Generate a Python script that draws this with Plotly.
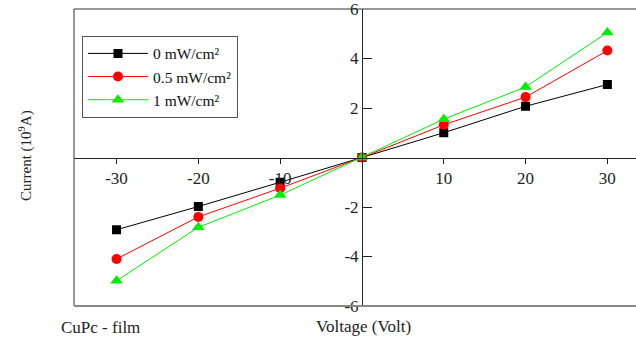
import plotly.graph_objects as go

voltage = [-30, -20, -10, 0, 10, 20, 30]
current_0 = [-2.92, -1.98, -1.0, 0.0, 1.0, 2.07, 2.95]
current_05 = [-4.1, -2.4, -1.24, 0.0, 1.32, 2.44, 4.32]
current_1 = [-4.98, -2.82, -1.52, 0.0, 1.55, 2.85, 5.05]
series_names = ["0 mW/cm²", "0.5 mW/cm²", "1 mW/cm²"]
x_ticks = [-30, -20, -10, 10, 20, 30]
y_ticks = [-6, -4, -2, 2, 4, 6]

W, H = 636, 343
ml, mr, mt, mb = 74, 0, 7, 37
x_range = [-35.2, 33.5]
y_range = [-6, 6]
pw = W - ml - mr
ph = H - mt - mb
yaxis_pos = (0 - x_range[0]) / (x_range[1] - x_range[0])
xaxis_pos = (0 - y_range[0]) / (y_range[1] - y_range[0])

font_family = "Liberation Serif, Times New Roman, serif"

fig = go.Figure()
styles = [
    (current_0, "black", "square", 9),
    (current_05, "red", "circle", 10),
    (current_1, "#00ee00", "triangle-up", 11),
]
for (vals, color, sym, size), name in zip(styles, series_names):
    fig.add_trace(go.Scatter(
        x=voltage, y=vals, name=name, mode="lines+markers",
        line=dict(color=color, width=1),
        marker=dict(color=color, symbol=sym, size=size),
    ))

fig.update_layout(
    width=W, height=H,
    margin=dict(l=ml, r=mr, t=mt, b=mb),
    paper_bgcolor="white", plot_bgcolor="white",
    font=dict(family=font_family, size=15, color="#222"),
    showlegend=True,
    legend=dict(
        x=(82 - ml) / pw, y=(H - mb - 34) / ph,
        xanchor="left", yanchor="top",
        bordercolor="#555", borderwidth=1, bgcolor="white",
        font=dict(family=font_family, size=15.5, color="#111"),
        tracegroupgap=0, itemwidth=60,
    ),
    xaxis=dict(
        range=x_range, anchor="free", position=xaxis_pos,
        tickvals=x_ticks, ticktext=[str(v) for v in x_ticks],
        showgrid=False, zeroline=False,
        showline=True, linecolor="#222", linewidth=1,
        ticks="outside", ticklen=5, tickcolor="#222",
        tickfont=dict(size=17), ticklabeloverflow="allow",
    ),
    yaxis=dict(
        range=y_range, anchor="free", position=yaxis_pos,
        tickvals=y_ticks, ticktext=[str(v) for v in y_ticks],
        showgrid=False, zeroline=False,
        showline=True, linecolor="#222", linewidth=1,
        ticks="inside", ticklen=9, tickcolor="#222",
        tickfont=dict(size=17), ticklabeloverflow="allow",
    ),
    shapes=[
        dict(type="line", xref="paper", yref="paper", x0=0, x1=0, y0=0, y1=1,
             line=dict(color="#333", width=1)),
        dict(type="line", xref="paper", yref="paper", x0=0, x1=1, y0=1, y1=1,
             line=dict(color="#333", width=1)),
        dict(type="line", xref="paper", yref="paper", x0=0, x1=1, y0=0, y1=0,
             line=dict(color="#888", width=2)),
    ],
    annotations=[
        dict(text="Current (10<sup>9</sup>A)", xref="paper", yref="paper",
             x=(25 - ml) / pw, y=(H - mb - 155) / ph,
             textangle=-90, showarrow=False, font=dict(size=15, color="#222"),
             xanchor="center", yanchor="middle"),
        dict(text="Voltage (Volt)", xref="paper", yref="paper",
             x=(363 - ml) / pw, y=-(327 - (H - mb)) / ph,
             showarrow=False, font=dict(size=17, color="#222"),
             xanchor="center", yanchor="middle"),
        dict(text="CuPc - film", xref="paper", yref="paper",
             x=(100 - ml) / pw, y=-(328 - (H - mb)) / ph,
             showarrow=False, font=dict(size=17, color="#222"),
             xanchor="center", yanchor="middle"),
    ],
)

fig.write_html("out.html", config={"displayModeBar": False},
               post_script="document.body.style.margin='0';")
